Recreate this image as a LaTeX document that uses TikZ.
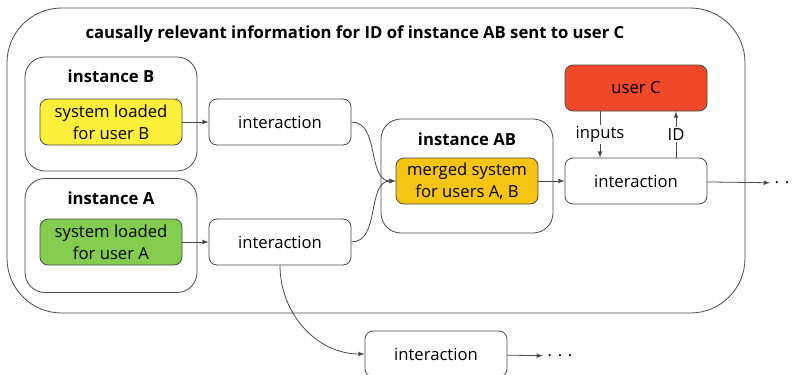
\documentclass[tikz,border=0pt]{standalone}
\usepackage{fontspec}
\setmainfont{Open Sans}
\definecolor{userByellow}{HTML}{FCEF3C}
\definecolor{userAgreen}{HTML}{84CC4E}
\definecolor{mergedorange}{HTML}{F6C514}
\definecolor{userCred}{HTML}{F04828}
\definecolor{lines}{HTML}{4A4A4A}

\begin{document}
\begin{tikzpicture}[x=0.75pt,y=-0.75pt,
   font=\fontsize{12.5}{16.5}\selectfont,
   box/.style={draw=lines,rounded corners=6pt,minimum width=106.5pt,minimum height=34.5pt,inner sep=0pt,align=center,line width=0.6pt},
   frame/.style={draw=lines,rounded corners=15pt,minimum width=129pt,minimum height=85.5pt,inner sep=0pt,line width=0.6pt},
   heading/.style={font=\fontsize{12.5}{15}\selectfont\bfseries},
   arr/.style={-latex,draw=lines,line width=0.6pt}]
   \useasboundingbox (0,0) rectangle (793,375);
   % outer frame and title
   \node[frame,rounded corners=41pt,minimum width=553.5pt,minimum height=228.75pt] (outer) at (376,160.5) {};
   \node[heading] (title) at (355,34) {causally relevant information for ID of instance AB sent to user C};
   % instances
   \node[frame] (instB) at (111,114) {};
   \node[heading] (instBlabel) at (111,76) {instance B};
   \node[box,fill=userByellow] (sysB) at (111,122) {system loaded\\for user B};
   \node[frame] (instA) at (111,235.5) {};
   \node[heading] (instAlabel) at (111,198) {instance A};
   \node[box,fill=userAgreen] (sysA) at (111,242) {system loaded\\for user A};
   \node[frame] (instAB) at (467,176) {};
   \node[heading] (instABlabel) at (467,139) {instance AB};
   \node[box,fill=mergedorange] (merged) at (467,181) {merged system\\for users A, B};
   % interactions
   \node[box] (interB) at (280,122) {interaction};
   \node[box] (interA) at (280,242) {interaction};
   \node[box] (interC) at (636,181) {interaction};
   \node[box] (interD) at (436,354) {interaction};
   \node[box,fill=userCred] (userC) at (636,88) {user C};
   \node (dotsC) at (787,183) {. . .};
   \node (dotsD) at (560,356) {. . .};
   % connectors
   \draw[arr] (sysB) -- (interB);
   \draw[arr] (sysA) -- (interA);
   \draw[arr] (interB.east) to[out=0,in=180] (merged.west);
   \draw[arr] (interA.east) to[out=0,in=180] (merged.west);
   \draw[arr] (merged) -- (interC);
   \draw[arr] (interC) -- (dotsC);
   \draw[arr] (interA.south) to[out=-90,in=180] (interD.west);
   \draw[arr] (interD) -- (dotsD);
   \draw[arr] (userC.south -| 600,0) -- node[fill=white,inner sep=1pt] {inputs} (interC.north -| 600,0);
   \draw[arr] (interC.north -| 676,0) -- node[fill=white,inner sep=1pt] {ID} (userC.south -| 676,0);
\end{tikzpicture}
\end{document}
